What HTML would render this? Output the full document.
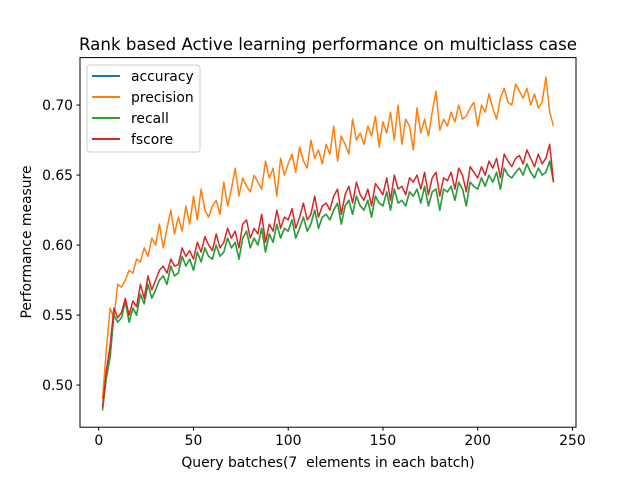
<!DOCTYPE html>
<html><head><meta charset="utf-8"><style>
body{margin:0;background:#fff}
svg{display:block;font-family:"DejaVu Sans","Liberation Sans",sans-serif}
text{white-space:pre}
</style></head><body>
<svg id="chart" width="640" height="480" xmlns="http://www.w3.org/2000/svg">
<rect width="640" height="480" fill="#fff"/>
<text x="328" y="50" font-size="16.67" text-anchor="middle">Rank based Active learning performance on multiclass case</text>
<g id="grid"></g>
<g id="series"></g>
<rect x="80" y="57.6" width="496" height="369.6" fill="none" stroke="#000" stroke-width="1"/>
<g id="axes"></g>
<text x="328" y="467" font-size="13.9" text-anchor="middle" xml:space="preserve">Query batches(7  elements in each batch)</text>
<text x="31" y="242" font-size="13.9" text-anchor="middle" transform="rotate(-90 31 242)">Performance measure</text>
<g>
<rect x="87" y="65" width="113" height="87" rx="3" fill="#fff" fill-opacity="0.8" stroke="#ccc"/>
<g><line x1="92" x2="120" y1="76" y2="76" stroke="#1f77b4" stroke-width="2"/><text x="131" y="81" font-size="13.9">accuracy</text></g>
<g><line x1="92" x2="120" y1="97" y2="97" stroke="#ff7f0e" stroke-width="2"/><text x="131" y="102" font-size="13.9">precision</text></g>
<g><line x1="92" x2="120" y1="118" y2="118" stroke="#2ca02c" stroke-width="2"/><text x="131" y="123" font-size="13.9">recall</text></g>
<g><line x1="92" x2="120" y1="139" y2="139" stroke="#d62728" stroke-width="2"/><text x="131" y="144" font-size="13.9">fscore</text></g>
</g>
</svg>
<script>
const xStart = 2, xStep = 2;
const xTicks = [0, 50, 100, 150, 200, 250];
const yTicks = [0.50, 0.55, 0.60, 0.65, 0.70];
const precision = [.490,.525,.555,.548,.572,.570,.575,.582,.580,.590,
.588,.598,.592,.605,.600,.615,.598,.612,.625,.608,
.620,.610,.628,.615,.635,.618,.640,.625,.620,.628,
.632,.622,.645,.628,.640,.655,.635,.648,.642,.638,
.650,.645,.640,.660,.648,.655,.635,.662,.650,.658,
.665,.652,.670,.660,.655,.675,.662,.668,.658,.672,
.665,.685,.660,.678,.672,.665,.690,.675,.680,.672,
.685,.678,.692,.670,.688,.680,.695,.675,.700,.672,
.690,.685,.668,.698,.680,.690,.678,.695,.710,.682,
.690,.685,.695,.688,.700,.690,.692,.698,.702,.685,
.700,.695,.708,.698,.690,.705,.712,.702,.700,.715,
.710,.705,.712,.700,.708,.698,.702,.720,.695,.685];
const recall = [.482,.505,.520,.550,.545,.548,.560,.545,.555,.550,
.565,.558,.572,.562,.568,.575,.578,.572,.585,.578,
.580,.592,.585,.590,.582,.595,.588,.598,.592,.590,
.600,.592,.595,.605,.598,.602,.590,.605,.610,.598,
.605,.600,.612,.595,.608,.602,.615,.605,.612,.610,
.618,.605,.612,.620,.610,.615,.625,.612,.620,.622,
.618,.625,.630,.615,.628,.632,.622,.635,.628,.625,
.632,.620,.635,.630,.628,.638,.625,.640,.630,.632,
.628,.638,.635,.640,.630,.642,.628,.638,.640,.625,
.640,.638,.642,.632,.645,.640,.628,.645,.642,.640,
.648,.642,.650,.645,.652,.640,.655,.650,.648,.652,
.655,.650,.658,.652,.648,.655,.650,.652,.660,.645];
const accuracy = recall.slice();
const fscore = [.484,.510,.528,.555,.548,.552,.562,.550,.560,.556,
.572,.562,.578,.568,.575,.582,.585,.580,.590,.585,
.586,.598,.592,.596,.590,.602,.595,.606,.600,.596,
.608,.598,.602,.612,.605,.610,.598,.615,.618,.605,
.612,.608,.622,.602,.615,.610,.625,.612,.620,.618,
.626,.612,.620,.630,.618,.622,.635,.620,.628,.630,
.625,.635,.640,.622,.636,.642,.630,.645,.636,.632,
.640,.628,.644,.640,.636,.648,.632,.650,.640,.642,
.636,.648,.645,.650,.640,.652,.636,.648,.652,.635,
.648,.646,.652,.640,.655,.650,.638,.656,.652,.648,
.656,.650,.660,.655,.662,.648,.665,.660,.656,.662,
.664,.658,.668,.662,.656,.665,.658,.662,.672,.645];
const NS='http://www.w3.org/2000/svg';
const xMin=-9.9, xMax=251.9, yMin=0.4699, yMax=0.7339;
const L=80,R=576,T=57.6,B=427.2;
const sx=v=>L+(v-xMin)/(xMax-xMin)*(R-L);
const sy=v=>B-(v-yMin)/(yMax-yMin)*(B-T);
const axes=document.getElementById('axes');
xTicks.forEach(t=>{
  const l=document.createElementNS(NS,'line');
  l.setAttribute('x1',sx(t));l.setAttribute('x2',sx(t));l.setAttribute('y1',B);l.setAttribute('y2',B+3.5);l.setAttribute('stroke','#000');
  
  
  axes.appendChild(l);
  const tx=document.createElementNS(NS,'text');
  tx.setAttribute('x',sx(t));tx.setAttribute('y',B+18);tx.setAttribute('font-size','13.9');tx.setAttribute('text-anchor','middle');
  tx.textContent=t;
  
  
  axes.appendChild(tx);
});
yTicks.forEach(t=>{
  const l=document.createElementNS(NS,'line');
  l.setAttribute('x1',L-3.5);l.setAttribute('x2',L);l.setAttribute('y1',sy(t));l.setAttribute('y2',sy(t));l.setAttribute('stroke','#000');
  
  
  axes.appendChild(l);
  const tx=document.createElementNS(NS,'text');
  tx.setAttribute('x',L-7);tx.setAttribute('y',sy(t)+5);tx.setAttribute('font-size','13.9');tx.setAttribute('text-anchor','end');
  tx.textContent=t.toFixed(2);
  
  
  axes.appendChild(tx);
});
const g=document.getElementById('series');
function draw(arr,color,name){
  const p=document.createElementNS(NS,'polyline');
  p.setAttribute('points',arr.map((v,i)=>sx(xStart+i*xStep).toFixed(1)+','+sy(v).toFixed(1)).join(' '));
  p.setAttribute('fill','none');p.setAttribute('stroke',color);p.setAttribute('stroke-width','1.5');p.setAttribute('stroke-linejoin','round');
  
  
  g.appendChild(p);
}
draw(accuracy,'#1f77b4','accuracy-line');
draw(precision,'#ff7f0e','precision-line');
draw(recall,'#2ca02c','recall-line');
draw(fscore,'#d62728','fscore-line');
</script>
</body></html>
